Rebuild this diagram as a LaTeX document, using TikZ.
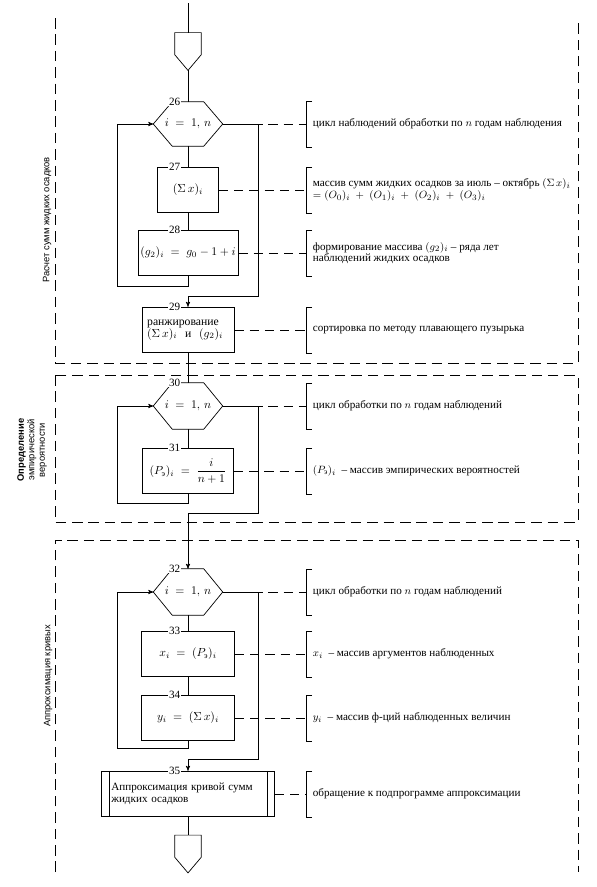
\documentclass[tikz,border=0pt]{standalone}
\usepackage{amsmath}
\usepackage{fontspec}
\setmainfont{Liberation Serif}
\setsansfont{Liberation Sans}
\usepackage{tikz}
\usetikzlibrary{arrows}
\tikzset{
>=stealth',
  block/.style={
    rectangle,
    draw=black, semithick,
    minimum height=1.37cm,
    inner sep=2pt,
    font=\fontsize{10}{10}\selectfont},
  cyclebox/.style={
    rectangle,
    minimum width=2.07cm,
    minimum height=1.32cm,
    inner sep=0pt,
    font=\fontsize{10}{10}\selectfont},
  offpage/.style={
    rectangle,
    minimum width=0.78cm,
    minimum height=1.12cm,
    inner sep=0pt},
  line/.style={draw, semithick},
  leader/.style={draw, semithick, dash pattern=on 8pt off 5pt},
  zone/.style={draw, thick, dash pattern=on 9pt off 5pt},
  num/.style={fill=white, inner sep=0.6pt, font=\fontsize{9.5}{9.5}\selectfont},
  note/.style={anchor=west, inner xsep=0.2cm, align=left,
    font=\fontsize{9.5}{10}\selectfont},
  sidetext/.style={rotate=90, align=center,
    font=\sffamily\fontsize{8}{9}\selectfont},
}
\begin{document}
\begin{tikzpicture}[x=0.03cm,y=-0.03cm]
\useasboundingbox (0,0) rectangle (597,887);
% dashed zones
\draw[zone] (55,18) -- (55,363) -- (578,363) -- (578,18);
\draw[zone] (55,375) rectangle (578,522);
\draw[zone] (55,872) -- (55,540) -- (578,540) -- (578,872);
\node[sidetext] (t1) at (47,220) {Расчет сумм жидких осадков};
\node[sidetext] (t2) at (32,450) {\textbf{Определение}\\эмпирической\\вероятности};
\node[sidetext] (t3) at (48,676) {Аппроксимация кривых};

\coordinate (start) at (188,3);
\node[offpage] (c1) at (188,51.5) {};
\node[cyclebox] (s26) at (188,124) {$i \;=\; 1,\, n$};
\node[block, minimum width=1.83cm] (s27) at (188,190) {$(\Sigma\, x)_i$};
\node[block, minimum width=2.73cm] (s28) at (188,253) {$(g_2)_i \;=\; g_0 - 1 + i$};
\node[block, minimum width=2.76cm, text width=2.45cm, align=left] (s29) at (188,330)
  {ранжирование\\$(\Sigma\, x)_i$ \ и \ $(g_2)_i$};
\node[cyclebox, minimum height=1.38cm] (s30) at (188,406) {$i \;=\; 1,\, n$};
\node[block, minimum width=2.73cm] (s31) at (188,471) {$(P_{\text{э}})_i \;=\; \dfrac{i}{n+1}$};
\node[cyclebox, minimum height=1.38cm] (s32) at (188,592) {$i \;=\; 1,\, n$};
\node[block, minimum width=2.79cm] (s33) at (188,654) {$x_i \;=\; (P_{\text{э}})_i$};
\node[block, minimum width=2.79cm] (s34) at (188,718) {$y_i \;=\; (\Sigma\, x)_i$};
\node[block, minimum width=5.19cm, text width=4.6cm, align=left,
  font=\fontsize{9.5}{10.5}\selectfont] (s35) at (188,794)
  {Аппроксимация кривой сумм\\жидких осадков};
\node[offpage] (c2) at (188,854) {};
\draw[line] ([xshift=0.24cm]s35.north west) -- ([xshift=0.24cm]s35.south west);
\draw[line] ([xshift=-0.24cm]s35.north east) -- ([xshift=-0.24cm]s35.south east);

% outlines of loop and off-page symbols
\foreach \s in {s26,s30,s32}
  \draw[line] (\s.west) -- ([xshift=0.57cm]\s.north west) -- ([xshift=-0.57cm]\s.north east)
    -- (\s.east) -- ([xshift=-0.57cm]\s.south east) -- ([xshift=0.57cm]\s.south west) -- cycle;
\foreach \s in {c1,c2}
  \draw[line] (\s.north west) -- (\s.north east) -- ([yshift=0.47cm]\s.south east)
    -- (\s.south) -- ([yshift=0.47cm]\s.south west) -- cycle;

\draw[line] (start) -- (c1.north);
\draw[line] (c1.south) -- (s26.north);
\draw[line] (s26.south) -- (s27.north);
\draw[line] (s27.south) -- (s28.north);
\draw[line,->] (s28.south) |- (117,286) |- (s26.west);
\draw[line,->] (s26.east) -| (258,296) -| (s29.north);
\draw[line] (s29.south) -- (s30.north);
\draw[line] (s30.south) -- (s31.north);
\draw[line,->] (s31.south) |- (117,503) |- (s30.west);
\draw[line,->] (s30.east) -| (258,513) -| (s32.north);
\draw[line] (s32.south) -- (s33.north);
\draw[line] (s33.south) -- (s34.north);
\draw[line,->] (s34.south) |- (117,748) |- (s32.west);
\draw[line,->] (s32.east) -| (258,759) -| (s35.north);
\draw[line] (s35.south) -- (c2.north);

\foreach \n in {26,...,35}
  \node[num] (k\n) at ([xshift=-0.4cm]s\n.north) {\n};

\foreach \n/\txt in {
  26/{цикл наблюдений обработки по $n$ годам наблюдения},
  27/{массив сумм жидких осадков за июль -- октябрь $(\Sigma\, x)_i$\\$= (O_0)_i \;+\; (O_1)_i \;+\; (O_2)_i \;+\; (O_3)_i$},
  28/{формирование массива $(g_2)_i$ -- ряда лет\\наблюдений жидких осадков},
  29/{сортировка по методу плавающего пузырька},
  30/{цикл обработки по $n$ годам наблюдений},
  31/{$(P_{\text{э}})_i$ \ -- массив эмпирических вероятностей},
  32/{цикл обработки по $n$ годам наблюдений},
  33/{$x_i$ \ -- массив аргументов наблюденных},
  34/{$y_i$ \ -- массив ф-ций наблюденных величин},
  35/{обращение к подпрограмме аппроксимации}}{
  \node[note] (n\n) at (306,0 |- s\n.east) {\txt};
  \draw[leader] (s\n.east) -- (n\n.west);
  \draw[line] ([shift={(0.18cm,0.69cm)}]n\n.west) -- ++(-0.18cm,0) -- ++(0,-1.38cm) -- ++(0.18cm,0);
}
\end{tikzpicture}
\end{document}
